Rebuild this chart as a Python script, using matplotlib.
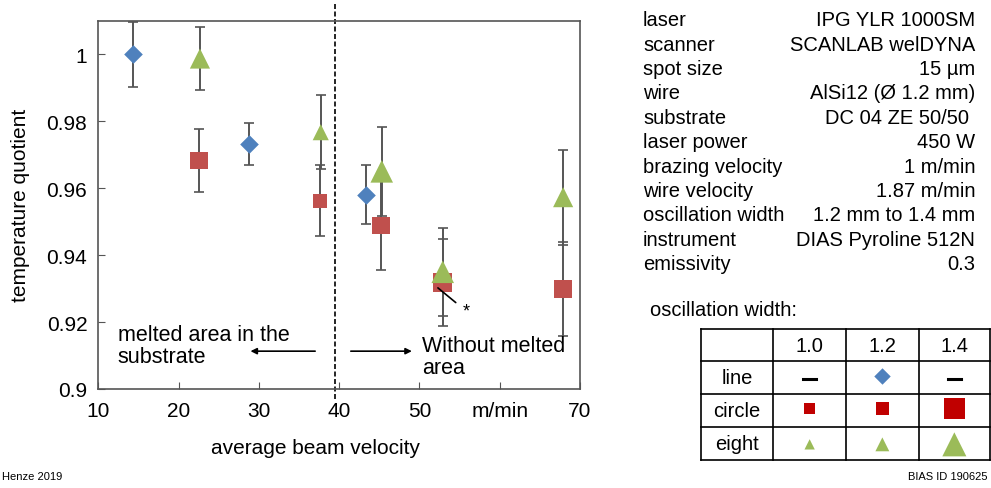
import matplotlib.pyplot as plt
import numpy as np

plt.rcParams['font.family'] = ['Liberation Sans', 'DejaVu Sans']

# oscillation "line", width 1.2 mm
line_v = [14.35, 28.8, 43.3]
line_q = [1.000, 0.9731, 0.958]
line_err = [0.0097, 0.0062, 0.0088]

# oscillation "circle"
circle_v = [22.55, 37.6, 45.2, 52.9, 67.9]
circle_q = [0.9682, 0.9562, 0.9489, 0.9318, 0.9299]
circle_err = [0.0094, 0.0106, 0.0134, 0.0131, 0.0140]
circle_w = [1.2, 1.0, 1.2, 1.4, 1.2]

# oscillation "eight"
eight_v = [22.65, 37.7, 45.3, 52.9, 67.9]
eight_q = [0.9987, 0.9767, 0.965, 0.935, 0.9573]
eight_err = [0.0095, 0.011, 0.0133, 0.0131, 0.0142]
eight_w = [1.2, 1.0, 1.4, 1.4, 1.2]

xticks = [10, 20, 30, 40, 50, 60, 70]
xticklabels = ['10', '20', '30', '40', '50', 'm/min', '70']
yticks = [0.9, 0.92, 0.94, 0.96, 0.98, 1.0]
yticklabels = ['0.9', '0.92', '0.94', '0.96', '0.98', '1']

params = ['laser', 'scanner', 'spot size', 'wire', 'substrate', 'laser power',
          'brazing velocity', 'wire velocity', 'oscillation width', 'instrument',
          'emissivity']
values = ['IPG YLR 1000SM', 'SCANLAB welDYNA', '15 µm', 'AlSi12 (Ø 1.2 mm)',
          'DC 04 ZE 50/50 ', '450 W', '1 m/min', '1.87 m/min', '1.2 mm to 1.4 mm',
          'DIAS Pyroline 512N', '0.3']

blue = '#4F81BD'
red = '#C0504D'
green = '#9BBB59'

W, H = 991, 489
fig = plt.figure(figsize=(W / 100, H / 100), dpi=100)
ax = fig.add_axes([98.4 / W, 1 - 390 / H, (580 - 98.4) / W, (390 - 21.7) / H])


def msize(w, base):
    # marker size by oscillation width
    return [(base * {1.0: 0.8, 1.2: 1.0, 1.4: 1.12}[x]) ** 2 for x in w]


ekw = dict(fmt='none', ecolor='#555555', elinewidth=1.4, capsize=3.5, capthick=1.2, zorder=2)
ax.errorbar(line_v, line_q, yerr=line_err, **ekw)
ax.errorbar(circle_v, circle_q, yerr=circle_err, **ekw)
ax.errorbar(eight_v, eight_q, yerr=eight_err, **ekw)

ax.scatter(line_v, line_q, marker='D', s=90, color=blue, zorder=3, linewidths=0)
ax.scatter(circle_v, circle_q, marker='s', s=msize(circle_w, 12.5), color=red, zorder=3, linewidths=0)
ax.scatter(eight_v, eight_q, marker='^', s=msize(eight_w, 14.5), color=green, zorder=4, linewidths=0)

ax.axvline(39.5, ymin=-0.027, ymax=1.045, color='black', lw=1.2, ls=(0, (3, 1.5)), clip_on=False)

ax.set_xlim(10, 70)
ax.set_ylim(0.9, 1.01)
ax.set_xticks(xticks)
ax.set_xticklabels(xticklabels)
ax.set_yticks(yticks)
ax.set_yticklabels(yticklabels)
ax.tick_params(direction='in', length=5, labelsize=15, color='#555555')
ax.tick_params(axis='x', pad=9)
ax.tick_params(axis='y', pad=8)
for s in ax.spines.values():
    s.set_color('#555555')
    s.set_linewidth(1.2)
ax.set_xlabel('average beam velocity', fontsize=15)
ax.xaxis.set_label_coords(0.45, -0.133)
ax.set_ylabel('temperature quotient', fontsize=15, labelpad=12)

ax.text(12.4, 0.913, 'melted area in the\nsubstrate', fontsize=15.5, va='center', ha='left', linespacing=1.05)
ax.text(50.3, 0.9098, 'Without melted\narea', fontsize=15.5, va='center', ha='left', linespacing=1.05)
ax.annotate('', xy=(28.6, 0.9113), xytext=(37.35, 0.9113),
            arrowprops=dict(arrowstyle='-|>', color='black', lw=1.2, mutation_scale=9))
ax.annotate('', xy=(49.4, 0.9113), xytext=(41.1, 0.9113),
            arrowprops=dict(arrowstyle='-|>', color='black', lw=1.2, mutation_scale=9))
ax.annotate('*', xy=(52.3, 0.9302), xytext=(55.4, 0.9232), fontsize=13, va='center', ha='left',
            arrowprops=dict(arrowstyle='-', color='black', lw=1.2, shrinkA=4, shrinkB=0))

# right-hand side in pixel coordinates
ov = fig.add_axes([0, 0, 1, 1])
ov.set_xlim(0, W)
ov.set_ylim(H, 0)
ov.axis('off')

for i, (p, v) in enumerate(zip(params, values)):
    y = 20.7 + i * 24.4
    ov.text(643, y, p, fontsize=14.5, va='center', ha='left')
    ov.text(975, y, v, fontsize=14.5, va='center', ha='right')

ov.text(650, 310, 'oscillation width:', fontsize=14.5, va='center', ha='left')

cols = [700.5, 773.3, 846, 918.7, 990]
rows = [330, 362.3, 395.3, 428, 460.7]
for c in cols:
    ov.plot([c, c], [rows[0], rows[-1]], color='black', lw=1.2)
for r in rows:
    ov.plot([cols[0], cols[-1]], [r, r], color='black', lw=1.2)

xc = [(cols[i] + cols[i + 1]) / 2 for i in range(4)]
yc = [(rows[i] + rows[i + 1]) / 2 for i in range(4)]
for j, t in enumerate(['1.0', '1.2', '1.4']):
    ov.text(xc[j + 1], yc[0], t, fontsize=14.5, ha='center', va='center')
for i, t in enumerate(['line', 'circle', 'eight']):
    ov.text(xc[0], yc[i + 1], t, fontsize=14.5, ha='center', va='center')

ov.plot([xc[1] - 6.5, xc[1] + 6.5], [yc[1] + 1, yc[1] + 1], color='black', lw=2.2)
ov.plot([xc[3] - 6.5, xc[3] + 6.5], [yc[1] + 1, yc[1] + 1], color='black', lw=2.2)
ov.scatter([xc[2]], [yc[1] - 2], marker='D', s=70, color=blue, linewidths=0)
ov.scatter(xc[1:], [yc[2] - 2] * 3, marker='s', s=[55, 95, 240], color='#C00000', linewidths=0)
ov.scatter(xc[1:], [yc[3] + 1] * 3, marker='^', s=[55, 100, 300], color=green, linewidths=0)

ov.text(2, 477, 'Henze 2019', fontsize=8, va='center', ha='left')
ov.text(988, 477, 'BIAS ID 190625', fontsize=8, va='center', ha='right')

fig.savefig('out.png', dpi=100)
